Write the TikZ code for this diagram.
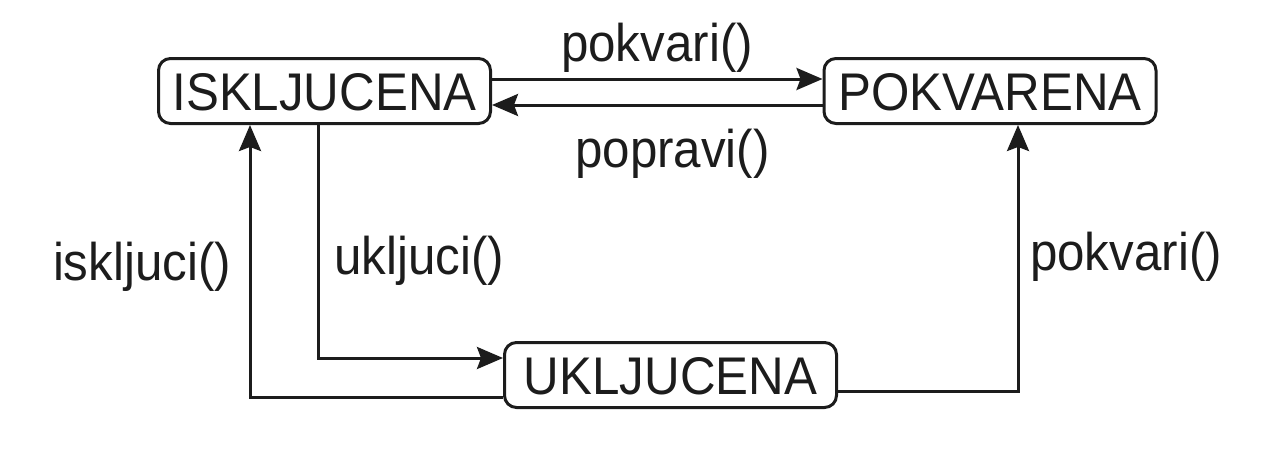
\documentclass[tikz,border=0pt]{standalone}
\usepackage{fontspec}
\setmainfont{Liberation Sans}[FakeStretch=0.93]
\usetikzlibrary{arrows.meta}
\definecolor{ink}{HTML}{1C1C1C}
\begin{document}
\begin{tikzpicture}[x=1pt,y=-1pt,
  state/.style={draw=ink, line width=3pt, rounded corners=12pt, minimum width=332pt,
    minimum height=65pt, inner sep=0pt, text height=38pt, text depth=0pt,
    font=\fontsize{53}{60}\selectfont, text=ink},
  conn/.style={draw=ink, line width=3pt, -{Stealth[length=26pt, width=22pt, inset=4pt]}},
  lbl/.style={anchor=base, inner sep=0pt, font=\fontsize{53}{60}\selectfont, text=ink}]
\useasboundingbox (0,0) rectangle (1266,458);
\node[state] (isk) at (324.5,91) {ISKLJUCENA};
\node[state] (pok) at (990,91) {POKVARENA};
\node[state] (uk) at (670.5,375) {UKLJUCENA};
\draw[conn] ([yshift=12pt]isk.east) -- ([yshift=12pt]pok.west);
\draw[conn] ([yshift=-14pt]pok.west) -- ([yshift=-14pt]isk.east);
\draw[conn] ([xshift=-6.5pt]isk.south) |- ([yshift=17pt]uk.west);
\draw[conn] ([yshift=-22pt]uk.west) -| ([xshift=-74.5pt]isk.south);
\draw[conn] ([yshift=-16pt]uk.east) -| ([xshift=28pt]pok.south);
\node[lbl] (l1) at (657,61) {pokvari()};
\node[lbl] (l2) at (672.5,167) {popravi()};
\node[lbl] (l3) at (142,280) {iskljuci()};
\node[lbl] (l4) at (419,274) {ukljuci()};
\node[lbl] (l5) at (1126,270) {pokvari()};
\end{tikzpicture}
\end{document}
